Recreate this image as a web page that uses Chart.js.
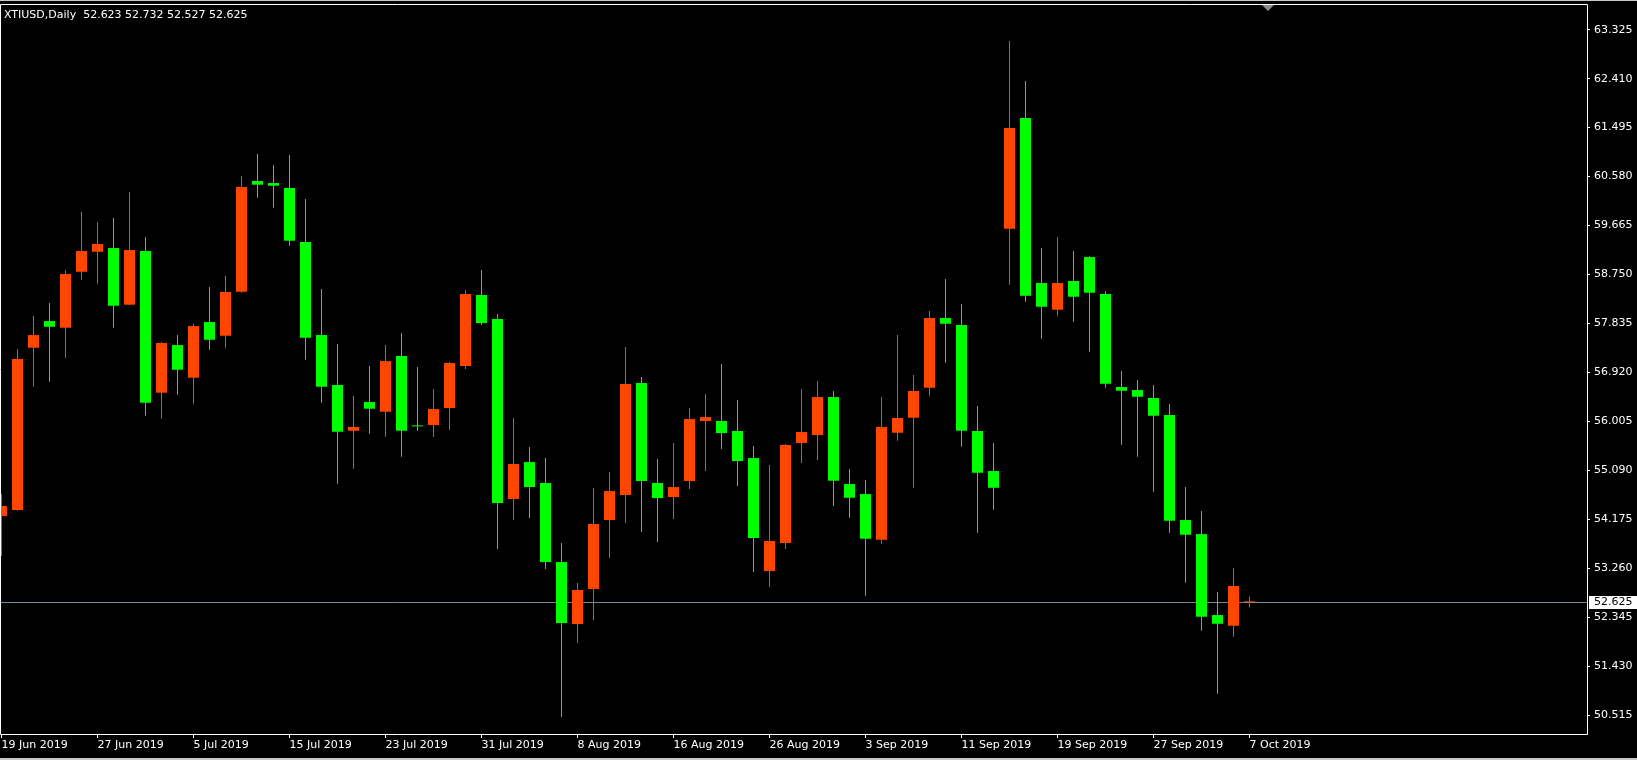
<!DOCTYPE html>
<html>
<head>
<meta charset="utf-8">
<script src="https://cdn.jsdelivr.net/npm/chart.js@4/dist/chart.umd.min.js"></script>
<style>
  html, body { margin: 0; padding: 0; background: #000; }
  #wrap { width: 1637px; height: 760px; position: relative; }
</style>
</head>
<body>
<div id="wrap"><canvas id="candles" width="1637" height="760"></canvas></div>
<script>
// XTIUSD daily bars, 19 Jun 2019 .. 7 Oct 2019 (bar index = x)
var openP = [54.235, 54.347, 57.381, 57.880, 57.755, 58.801, 59.175, 59.244, 58.185, 59.188,
  56.540, 57.431, 56.820, 57.861, 57.605, 58.428, 60.497, 60.459, 60.366, 59.357,
  57.618, 56.684, 55.829, 56.366, 56.185, 57.226, 55.913, 55.936, 56.254, 57.039,
  58.366, 57.917, 54.553, 55.244, 54.852, 53.375, 52.216, 52.871, 54.160, 54.628,
  56.721, 54.852, 54.590, 54.889, 56.011, 56.011, 55.824, 55.319, 53.207, 53.730,
  55.600, 55.749, 56.459, 54.833, 54.646, 53.792, 55.792, 56.072, 56.633, 57.936,
  57.805, 55.824, 55.076, 59.605, 61.674, 58.590, 58.091, 58.628, 59.076, 58.385,
  56.646, 56.590, 56.441, 56.123, 54.160, 53.898, 52.384, 52.184, 52.623];
var highP = [54.646, 57.356, 57.973, 58.216, 58.833, 59.917, 59.730, 59.805, 60.291, 59.450,
  57.487, 57.618, 57.829, 58.515, 58.721, 60.590, 61.001, 60.796, 60.983, 60.160,
  58.478, 57.450, 56.478, 57.039, 57.431, 57.656, 57.020, 56.609, 57.113, 58.459,
  58.833, 58.011, 56.067, 55.525, 55.319, 53.730, 52.983, 54.758, 55.057, 57.394,
  56.833, 55.300, 55.600, 56.254, 56.515, 57.076, 56.403, 55.543, 55.188, 55.581,
  56.609, 56.758, 56.572, 55.113, 54.908, 56.459, 57.618, 56.871, 58.067, 58.665,
  58.198, 56.291, 55.600, 63.114, 62.366, 59.244, 59.450, 59.188, 59.095, 58.441,
  56.945, 56.777, 56.684, 56.328, 54.777, 54.328, 52.814, 53.263, 52.732];
var lowP = [53.487, 54.334, 56.652, 56.745, 57.194, 58.652, 58.577, 57.755, 58.179, 56.110,
  56.054, 56.502, 56.334, 57.343, 57.381, 58.409, 60.185, 59.998, 59.287, 57.156,
  56.353, 54.839, 55.119, 55.773, 55.717, 55.343, 55.829, 55.712, 55.842, 56.983,
  57.805, 53.618, 54.160, 54.197, 53.244, 50.478, 51.861, 52.291, 53.450, 54.104,
  53.936, 53.749, 54.179, 54.740, 55.076, 55.487, 54.796, 53.188, 52.908, 53.618,
  55.226, 55.282, 54.422, 54.203, 52.745, 53.717, 55.643, 54.764, 56.484, 57.100,
  55.530, 53.923, 54.353, 58.558, 58.241, 57.549, 57.979, 57.867, 57.306, 56.633,
  55.568, 55.343, 54.689, 53.923, 52.988, 52.091, 50.913, 51.979, 52.527];
var closeP = [54.422, 57.170, 57.618, 57.773, 58.758, 59.188, 59.319, 58.166, 59.207, 56.353,
  57.469, 56.970, 57.786, 57.530, 58.422, 60.385, 60.428, 60.409, 59.381, 57.568,
  56.652, 55.811, 55.899, 56.241, 57.132, 55.829, 55.911, 56.235, 57.095, 58.385,
  57.842, 54.478, 55.207, 54.777, 53.375, 52.235, 52.852, 54.086, 54.702, 56.702,
  54.889, 54.571, 54.777, 56.048, 56.085, 55.786, 55.263, 53.824, 53.768, 55.562,
  55.805, 56.459, 54.895, 54.577, 53.811, 55.899, 56.067, 56.572, 57.936, 57.829,
  55.829, 55.044, 54.764, 61.487, 58.353, 58.147, 58.590, 58.334, 58.409, 56.708,
  56.577, 56.465, 56.110, 54.147, 53.885, 52.353, 52.222, 52.927, 52.625];

var tickBars = [0, 6, 12, 18, 24, 30, 36, 42, 48, 54, 60, 66, 72, 78];
var tickLabels = ['19 Jun 2019', '27 Jun 2019', '5 Jul 2019', '15 Jul 2019', '23 Jul 2019',
  '31 Jul 2019', '8 Aug 2019', '16 Aug 2019', '26 Aug 2019', '3 Sep 2019', '11 Sep 2019',
  '19 Sep 2019', '27 Sep 2019', '7 Oct 2019'];
var priceTicks = [63.325, 62.410, 61.495, 60.580, 59.665, 58.750, 57.835, 56.920,
  56.005, 55.090, 54.175, 53.260, 52.345, 51.430, 50.515];

var UP = '#FF4500', DOWN = '#00FF00';
var FONT = { family: 'DejaVu Sans', size: 11 };
var last = closeP.length - 1;

var bodies = [], wicks = [], colors = [];
for (var i = 0; i < closeP.length; i++) {
  bodies.push({ x: i, y: [openP[i], closeP[i]] });
  wicks.push({ x: i, y: [lowP[i], highP[i]] });
  colors.push(closeP[i] > openP[i] ? UP : DOWN);
}

// frame, bid line, header text, bid label
var mtPlugin = {
  id: 'mt',
  beforeDatasetsDraw: function (chart) {
    var c = chart.ctx, a = chart.chartArea;
    var py = Math.round(chart.scales.y.getPixelForValue(closeP[last])) + 0.5;
    c.save();
    c.strokeStyle = '#778899';
    c.lineWidth = 1;
    c.beginPath(); c.moveTo(a.left, py); c.lineTo(a.right, py); c.stroke();
    c.restore();
  },
  afterDraw: function (chart) {
    var c = chart.ctx, a = chart.chartArea;
    c.save();
    c.fillStyle = '#c8c8c8';
    c.fillRect(0, 0, 1637, 1);
    c.fillRect(0, 758, 1637, 2);
    c.strokeStyle = '#ffffff';
    c.lineWidth = 1;
    c.beginPath();
    c.moveTo(0.5, a.top - 0.5); c.lineTo(a.right + 0.5, a.top - 0.5);
    c.lineTo(a.right + 0.5, a.bottom + 0.5); c.lineTo(0.5, a.bottom + 0.5);
    c.closePath(); c.stroke();
    // chart shift marker
    c.fillStyle = '#8c8c8c';
    c.beginPath(); c.moveTo(1262, a.top); c.lineTo(1274, a.top); c.lineTo(1268, a.top + 6); c.closePath(); c.fill();
    // header
    c.font = '11px "DejaVu Sans"';
    c.textBaseline = 'middle';
    c.textAlign = 'left';
    c.fillStyle = '#ffffff';
    var hdr = 'XTIUSD,Daily  ' + [openP[last], highP[last], lowP[last], closeP[last]].map(function (v) { return v.toFixed(3); }).join(' ');
    c.fillText(hdr, 4, 15);
    // bid label
    var py = Math.round(chart.scales.y.getPixelForValue(closeP[last]));
    c.fillStyle = '#ffffff';
    c.fillRect(a.right + 2, py - 6, 1637 - a.right - 2, 13);
    c.fillStyle = '#000000';
    c.fillText(closeP[last].toFixed(3), a.right + 7, py + 0.5);
    c.restore();
  }
};

var ctx = document.getElementById('candles').getContext('2d');
var chart = new Chart(ctx, {
  type: 'bar',
  data: {
    datasets: [{
      data: bodies,
      backgroundColor: colors,
      barThickness: 11,
      minBarLength: 1,
      grouped: false,
      borderWidth: 0,
      inflateAmount: 0
    }, {
      data: wicks,
      backgroundColor: colors,
      barThickness: 1,
      grouped: false,
      borderWidth: 0,
      inflateAmount: 0
    }]
  },
  options: {
    responsive: false,
    animation: false,
    devicePixelRatio: 1,
    layout: { padding: { top: 5, left: 1, right: 0, bottom: 0 } },
    plugins: { legend: { display: false }, tooltip: { enabled: false } },
    scales: {
      x: {
        type: 'linear',
        position: 'bottom',
        offset: false,
        min: -0.03125,
        max: 99.09375,
        afterFit: function (s) { s.height = 26; s.paddingLeft = 0; s.paddingRight = 0; },
        afterBuildTicks: function (s) { s.ticks = tickBars.map(function (v) { return { value: v }; }); },
        ticks: {
          autoSkip: false, maxRotation: 0, align: 'start', color: '#ffffff', font: FONT, padding: 1,
          callback: function (v, i) { return tickLabels[i]; }
        },
        grid: { offset: false, drawOnChartArea: false, drawTicks: true, tickLength: 4, color: '#ffffff' },
        border: { display: false }
      },
      y: {
        type: 'linear',
        position: 'right',
        min: 50.161,
        max: 63.787,
        afterFit: function (s) { s.width = 50; s.paddingTop = 0; s.paddingBottom = 0; },
        afterBuildTicks: function (s) { s.ticks = priceTicks.map(function (v) { return { value: v }; }); },
        ticks: {
          color: '#ffffff', font: FONT, padding: 4,
          callback: function (v) { return v.toFixed(3); }
        },
        grid: { drawOnChartArea: false, drawTicks: true, tickLength: 3, color: '#ffffff' },
        border: { display: false }
      }
    }
  },
  plugins: [mtPlugin]
});
</script>
</body>
</html>
